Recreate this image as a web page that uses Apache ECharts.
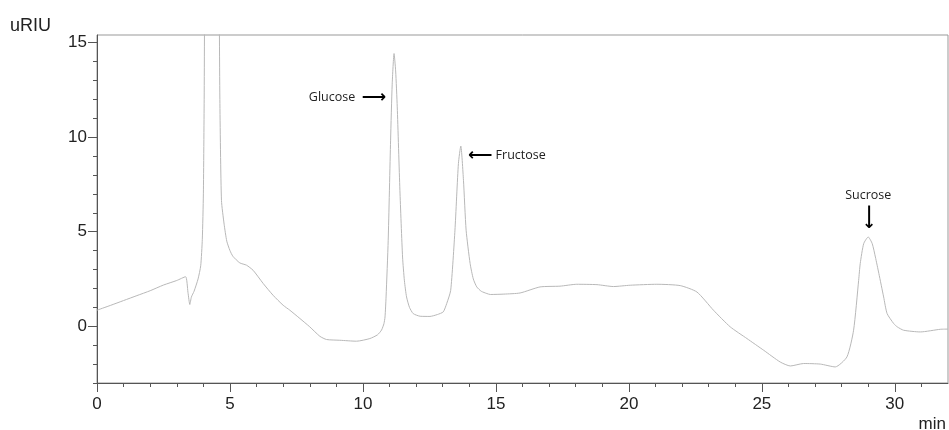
<!DOCTYPE html>
<html>
<head>
<meta charset="utf-8">
<script src="https://cdn.jsdelivr.net/npm/echarts@6/dist/echarts.min.js"></script>
<style>html,body{margin:0;padding:0;background:#fff}#c{width:949px;height:430px}</style>
</head>
<body>
<div id="c"></div>
<script>
// Retention time (min)
const times = [0.00,0.50,1.00,1.50,2.00,2.50,3.00,3.33,3.42,3.49,3.55,3.65,3.80,3.90,3.96,4.00,4.03,4.06,4.30,4.58,4.62,4.68,4.78,4.88,5.00,5.11,5.37,5.62,5.87,6.25,6.62,7.00,7.25,7.63,8.00,8.38,8.63,9.13,9.76,10.26,10.55,10.70,10.79,10.83,10.87,10.95,11.04,11.10,11.17,11.23,11.29,11.39,11.49,11.56,11.64,11.75,11.89,12.15,12.52,12.80,13.02,13.15,13.30,13.46,13.59,13.68,13.78,13.88,14.03,14.15,14.28,14.45,14.66,14.79,15.30,15.91,16.66,17.41,18.04,18.80,19.42,20.05,21.05,21.93,22.56,23.18,23.81,24.44,25.07,25.69,26.07,26.57,27.20,27.76,28.20,28.45,28.64,28.70,28.83,29.00,29.15,29.27,29.40,29.58,29.71,29.96,30.09,30.33,30.96,31.71,32.00];
// Detector signal (uRIU)
const signal = [0.85,1.10,1.36,1.62,1.88,2.18,2.42,2.62,1.80,1.15,1.55,1.85,2.50,3.20,4.60,7.00,12.0,20.0,45.0,20.0,12.0,6.66,5.40,4.50,4.00,3.70,3.35,3.23,2.96,2.26,1.64,1.11,0.85,0.41,-0.03,-0.53,-0.70,-0.74,-0.79,-0.65,-0.45,-0.20,0.14,0.49,1.55,4.55,9.84,12.80,14.42,13.50,11.60,7.19,3.66,2.40,1.55,1.00,0.67,0.53,0.52,0.62,0.76,1.20,1.90,5.08,8.60,9.53,7.72,5.08,3.32,2.50,2.08,1.85,1.73,1.68,1.70,1.76,2.08,2.12,2.22,2.20,2.10,2.17,2.22,2.15,1.81,0.85,-0.03,-0.65,-1.27,-1.89,-2.10,-1.97,-2.00,-2.15,-1.62,-0.21,2.43,3.32,4.37,4.72,4.37,3.66,2.79,1.55,0.67,0.14,-0.03,-0.21,-0.30,-0.16,-0.15];

const xMajor = [0,5,10,15,20,25,30];
const xMinor = [1,2,3,4,6,7,8,9,11,12,13,14,16,17,18,19,21,22,23,24,26,27,28,29,31];
const yMajor = [0,5,10,15];
const yMinor = [-3,-2,-1,1,2,3,4,6,7,8,9,11,12,13,14];

// Peak annotations: [label, time, signal]
const glucoseNote = ['Glucose', 10.87, 12.11];
const fructoseNote = ['Fructose', 13.95, 9.04];
const sucroseNote = ['Sucrose', 29.0, 6.93];
const sucroseArrow = [29.02, 5.79];

const data = times.map((t, i) => [t, signal[i]]);

const axisColor = '#555';
const tickFont = {fontSize: 17, color: '#222', fontFamily: 'Liberation Sans'};
const noteFont = 'Open Sans';
const arrowStyle = {fontSize: 17, color: '#000', fontFamily: 'DejaVu Sans', fontWeight: 'bold'};

const chart = echarts.init(document.getElementById('c'), null, {renderer: 'canvas'});
chart.setOption({
  animation: false,
  backgroundColor: '#fff',
  grid: {left: 97, right: 1, top: 35, bottom: 47, show: true, borderColor: '#999', borderWidth: 1, outerBoundsMode: 'none'},
  xAxis: [
    {type: 'value', min: 0, max: 32, position: 'bottom',
     axisLine: {show: true, onZero: false, lineStyle: {color: axisColor, width: 1}},
     axisTick: {show: true, customValues: xMajor, length: 9, lineStyle: {color: axisColor}},
     axisLabel: Object.assign({customValues: xMajor, margin: 13}, tickFont),
     splitLine: {show: false}},
    {type: 'value', min: 0, max: 32, position: 'bottom',
     axisLine: {show: false, onZero: false},
     axisTick: {show: true, customValues: xMinor, length: 4, lineStyle: {color: axisColor}},
     axisLabel: {show: false}, splitLine: {show: false}}
  ],
  yAxis: [
    {type: 'value', min: -3, max: 15.4, position: 'left',
     axisLine: {show: true, onZero: false, lineStyle: {color: axisColor, width: 1}},
     axisTick: {show: true, customValues: yMajor, length: 9, lineStyle: {color: axisColor}},
     axisLabel: Object.assign({customValues: yMajor, margin: 10}, tickFont),
     splitLine: {show: false}},
    {type: 'value', min: -3, max: 15.4, position: 'left',
     axisLine: {show: false, onZero: false},
     axisTick: {show: true, customValues: yMinor, length: 4, lineStyle: {color: axisColor}},
     axisLabel: {show: false}, splitLine: {show: false}}
  ],
  graphic: [
    {type: 'text', left: 10, top: 17, style: {text: 'uRIU', fontSize: 18, fill: '#222', fontFamily: 'Liberation Sans'}},
    {type: 'text', right: 3, top: 416, style: {text: 'min', fontSize: 17, fill: '#222', fontFamily: 'Liberation Sans'}}
  ],
  series: [{
    type: 'line',
    data: data,
    showSymbol: false,
    symbol: 'none',
    clip: true,
    smooth: 0.2,
    lineStyle: {color: '#b8b8b8', width: 1},
    markPoint: {
      symbol: 'circle', symbolSize: 0, silent: true,
      data: [
        {coord: [glucoseNote[1], glucoseNote[2]],
         label: {show: true, position: 'left', distance: 0, formatter: glucoseNote[0] + '  {a|⟶}',
           fontSize: 12.5, color: '#222', fontFamily: noteFont, rich: {a: arrowStyle}}},
        {coord: [fructoseNote[1], fructoseNote[2]],
         label: {show: true, position: 'right', distance: 0, formatter: '{a|⟵} ' + fructoseNote[0],
           fontSize: 12.5, color: '#222', fontFamily: noteFont, rich: {a: arrowStyle}}},
        {coord: [sucroseNote[1], sucroseNote[2]],
         label: {show: true, position: 'inside', formatter: sucroseNote[0],
           fontSize: 12.5, color: '#222', fontFamily: noteFont}},
        {coord: sucroseArrow,
         label: {show: true, position: 'inside', rotate: -90, formatter: '⟶',
           fontSize: 17, color: '#000', fontFamily: 'DejaVu Sans', fontWeight: 'bold'}}
      ]
    }
  }]
});
</script>
</body>
</html>
